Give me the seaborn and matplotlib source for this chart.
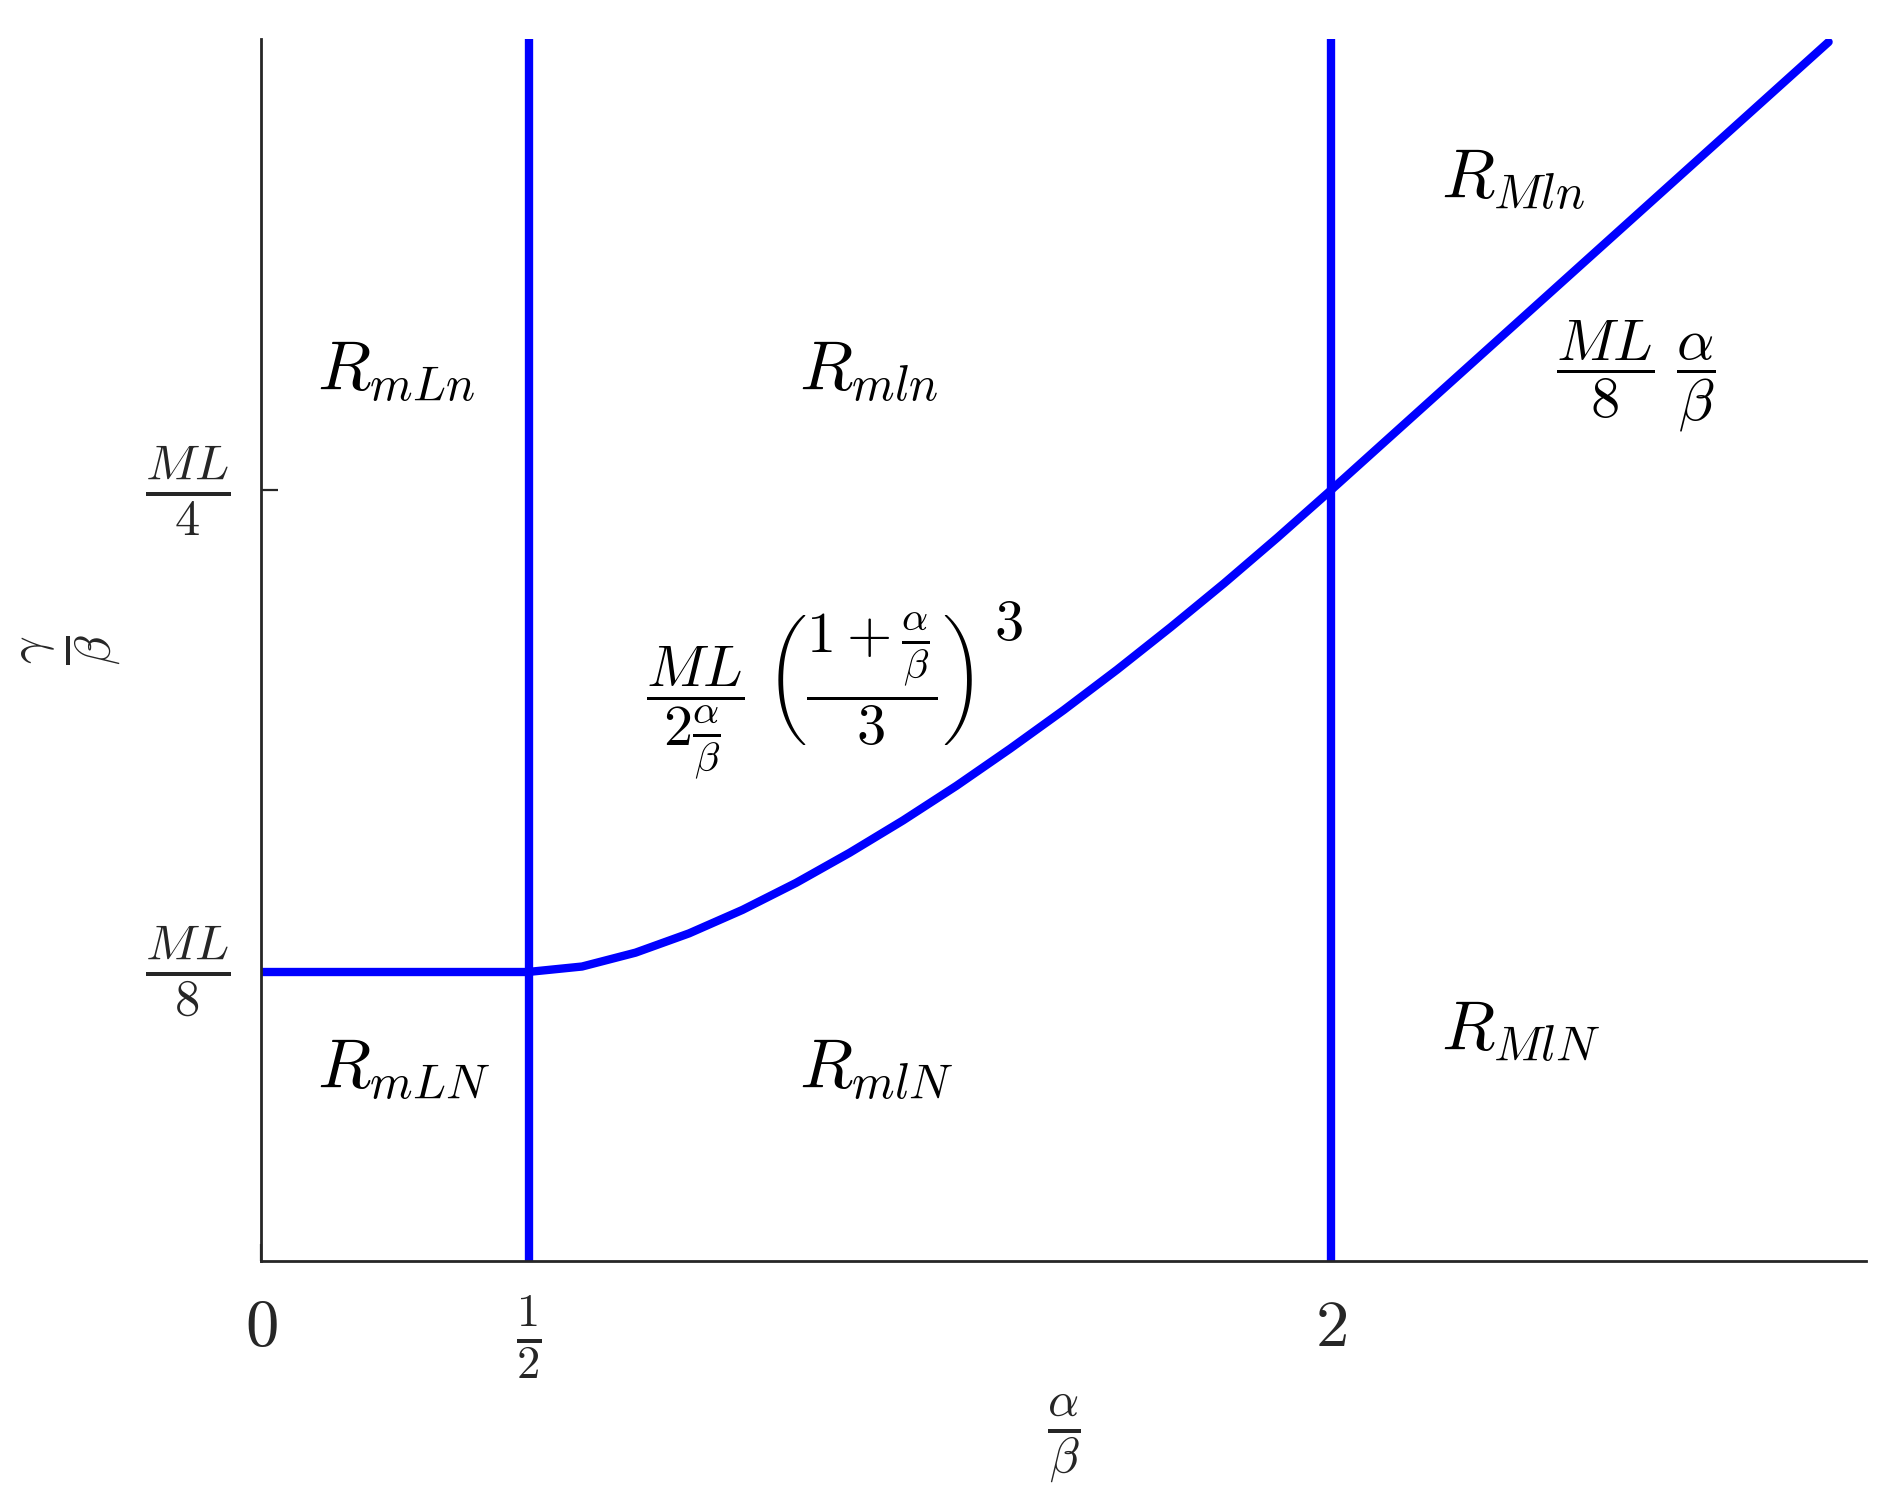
import numpy as np
import pandas as pd
import seaborn as sns
import matplotlib
matplotlib.use('Agg')
import matplotlib.pyplot as plt

# ---- Datos (ML = 1) ----
# frontera curva entre alpha/beta = 1/2 y alpha/beta = 2
curva_x = [0.5, 0.6, 0.7, 0.8, 0.9, 1.0, 1.1, 1.2, 1.3, 1.4, 1.5, 1.6, 1.7, 1.8, 1.9, 2.0]
curva_y = [0.1250, 0.1264, 0.1300, 0.1350, 0.1411, 0.1481, 0.1559, 0.1643,
           0.1733, 0.1829, 0.1929, 0.2034, 0.2144, 0.2258, 0.2377, 0.2500]
# tramo recto a la derecha de alpha/beta = 2
recta_x = [2.0, 2.93]
recta_y = [0.25, 0.36625]
# tramo horizontal a la izquierda
horiz_x = [0.0, 0.5]
horiz_y = [0.125, 0.125]
# lineas verticales
verticales = [0.5, 2.0]

xticks = [0, 0.5, 2]
xtick_labels = ['$0$', r'$\frac{1}{2}$', '$2$']
yticks = [0.125, 0.25]
ytick_labels = [r'$\frac{ML}{8}$', r'$\frac{ML}{4}$']

regiones = [r'$R_{mLn}$', r'$R_{mln}$', r'$R_{Mln}$', r'$R_{mLN}$', r'$R_{mlN}$', r'$R_{MlN}$']
regiones_x = [0.105, 1.005, 2.205, 0.105, 1.005, 2.205]
regiones_y = [0.2807, 0.2807, 0.3307, 0.0998, 0.0998, 0.1095]

sns.set_style('white')
plt.rcParams['mathtext.fontset'] = 'cm'
plt.rcParams['font.family'] = ['DejaVu Sans']

fig = plt.figure(figsize=(9.48, 7.515), dpi=200)
ax = fig.add_axes([0.1377, 0.161, 0.8465, 0.813])

azul = '#0000ff'
lw = 3.0
df_curva = pd.DataFrame({'x': curva_x + recta_x[1:], 'y': curva_y + recta_y[1:]})
sns.lineplot(data=df_curva, x='x', y='y', sort=False, estimator=None, color=azul, lw=lw, ax=ax)
sns.lineplot(x=horiz_x, y=horiz_y, sort=False, estimator=None, color=azul, lw=lw, ax=ax)
for xv in verticales:
    ax.axvline(xv, color=azul, lw=lw)

ax.set_xlim(0, 3)
ax.set_ylim(0.05, 0.367)
ax.set_xticks(xticks)
ax.set_xticklabels(xtick_labels)
ax.set_yticks(yticks)
ax.set_yticklabels(ytick_labels)
ax.tick_params(direction='in', length=6, width=0.8, colors='#262626',
               left=True, bottom=True, labelsize=26, pad=11)
ax.tick_params(axis='x', labelsize=24, pad=12)
for etiqueta in ax.get_yticklabels():
    etiqueta.set_va('center')

for lado in ['top', 'right']:
    ax.spines[lado].set_visible(False)
for lado in ['left', 'bottom']:
    ax.spines[lado].set_color('#262626')
    ax.spines[lado].set_linewidth(1.0)

ax.set_xlabel(r'$\frac{\alpha}{\beta}$', fontsize=25, color='#262626', labelpad=4)
ax.set_ylabel(r'$\frac{\gamma}{\beta}$', fontsize=25, color='#262626', labelpad=8)

for txt, xx, yy in zip(regiones, regiones_x, regiones_y):
    ax.text(xx, yy, txt, fontsize=25, ha='left', va='center', color='black')

ax.text(0.72, 0.1967,
        r'$\dfrac{ML}{2\frac{\alpha}{\beta}}\ \left(\dfrac{1+\frac{\alpha}{\beta}}{3}\right)$',
        fontsize=21, ha='left', va='center', color='black')
# exponente del parentesis
ax.text(1.37, 0.2155, r'$3$', fontsize=21, ha='left', va='center', color='black')
ax.text(2.42, 0.2795, r'$\dfrac{ML}{8}\ \dfrac{\alpha}{\beta}$',
        fontsize=21, ha='left', va='center', color='black')

plt.savefig('out.png', dpi=200, facecolor='white')
